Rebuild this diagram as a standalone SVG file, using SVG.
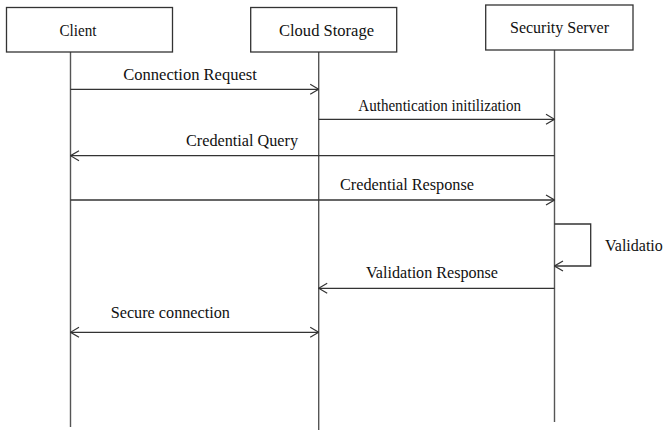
<svg xmlns="http://www.w3.org/2000/svg" width="663" height="430" viewBox="0 0 663 430">
  <style>
    .box { fill: #ffffff; stroke: #333333; stroke-width: 1.3; }
    .life { stroke: #555555; stroke-width: 1.4; fill: none; }
    .msg { stroke: #333333; stroke-width: 1.3; fill: none; }
    .lbl { font-family: "Liberation Serif", "Times New Roman", serif; font-size: 16px; fill: #111111; }
  </style>
  <defs>
    <marker id="open" viewBox="0 0 10 12" refX="9.5" refY="6" markerWidth="10" markerHeight="12" markerUnits="userSpaceOnUse" orient="auto-start-reverse">
      <path d="M1,1 L9.5,6 L1,11" fill="none" stroke="#333333" stroke-width="1.2"/>
    </marker>
  </defs>
  <rect width="663" height="430" fill="#ffffff"/>

  <!-- lifelines -->
  <g id="lifelines">
    <line class="life" x1="70.5" y1="52" x2="70.5" y2="427"/>
    <line class="life" x1="318.7" y1="52" x2="318.7" y2="430"/>
    <line class="life" x1="554.5" y1="50" x2="554.5" y2="422"/>
  </g>

  <!-- participants -->
  <g id="client">
    <rect class="box" x="6.5" y="7.5" width="166" height="44.5"/>
    <text class="lbl" x="59.5" y="36" textLength="37" lengthAdjust="spacingAndGlyphs">Client</text>
  </g>
  <g id="cloud-storage">
    <rect class="box" x="250.7" y="7.5" width="146" height="44.5"/>
    <text class="lbl" x="279" y="35.5" textLength="95" lengthAdjust="spacingAndGlyphs">Cloud Storage</text>
  </g>
  <g id="security-server">
    <rect class="box" x="485.7" y="5" width="147.3" height="45"/>
    <text class="lbl" x="510" y="32.5" textLength="99" lengthAdjust="spacingAndGlyphs">Security Server</text>
  </g>

  <!-- messages -->
  <g id="connectors">
    <line class="msg" x1="70.5" y1="89.3" x2="318.7" y2="89.3" marker-end="url(#open)"/>
    <line class="msg" x1="318.7" y1="119.3" x2="554.5" y2="119.3" marker-end="url(#open)"/>
    <line class="msg" x1="554.5" y1="155.7" x2="70.5" y2="155.7" marker-end="url(#open)"/>
    <line class="msg" x1="70.5" y1="200" x2="554.5" y2="200" marker-end="url(#open)"/>
    <polyline class="msg" points="554.5,224 590.7,224 590.7,266 554.5,266" marker-end="url(#open)"/>
    <line class="msg" x1="554.5" y1="288.3" x2="318.7" y2="288.3" marker-end="url(#open)"/>
    <line class="msg" x1="70.5" y1="332.3" x2="318.7" y2="332.3" marker-start="url(#open)" marker-end="url(#open)"/>
  </g>

  <!-- message labels -->
  <g id="labels">
    <text class="lbl" x="123.3" y="80" textLength="133.5" lengthAdjust="spacingAndGlyphs">Connection Request</text>
    <text class="lbl" x="358.3" y="110.5" textLength="162.7" lengthAdjust="spacingAndGlyphs">Authentication initilization</text>
    <text class="lbl" x="186" y="146" textLength="112" lengthAdjust="spacingAndGlyphs">Credential Query</text>
    <text class="lbl" x="340" y="190" textLength="134" lengthAdjust="spacingAndGlyphs">Credential Response</text>
    <text class="lbl" x="605" y="250.5">Validatio</text>
    <text class="lbl" x="366" y="278" textLength="132" lengthAdjust="spacingAndGlyphs">Validation Response</text>
    <text class="lbl" x="110.7" y="318" textLength="119.3" lengthAdjust="spacingAndGlyphs">Secure connection</text>
  </g>
</svg>
